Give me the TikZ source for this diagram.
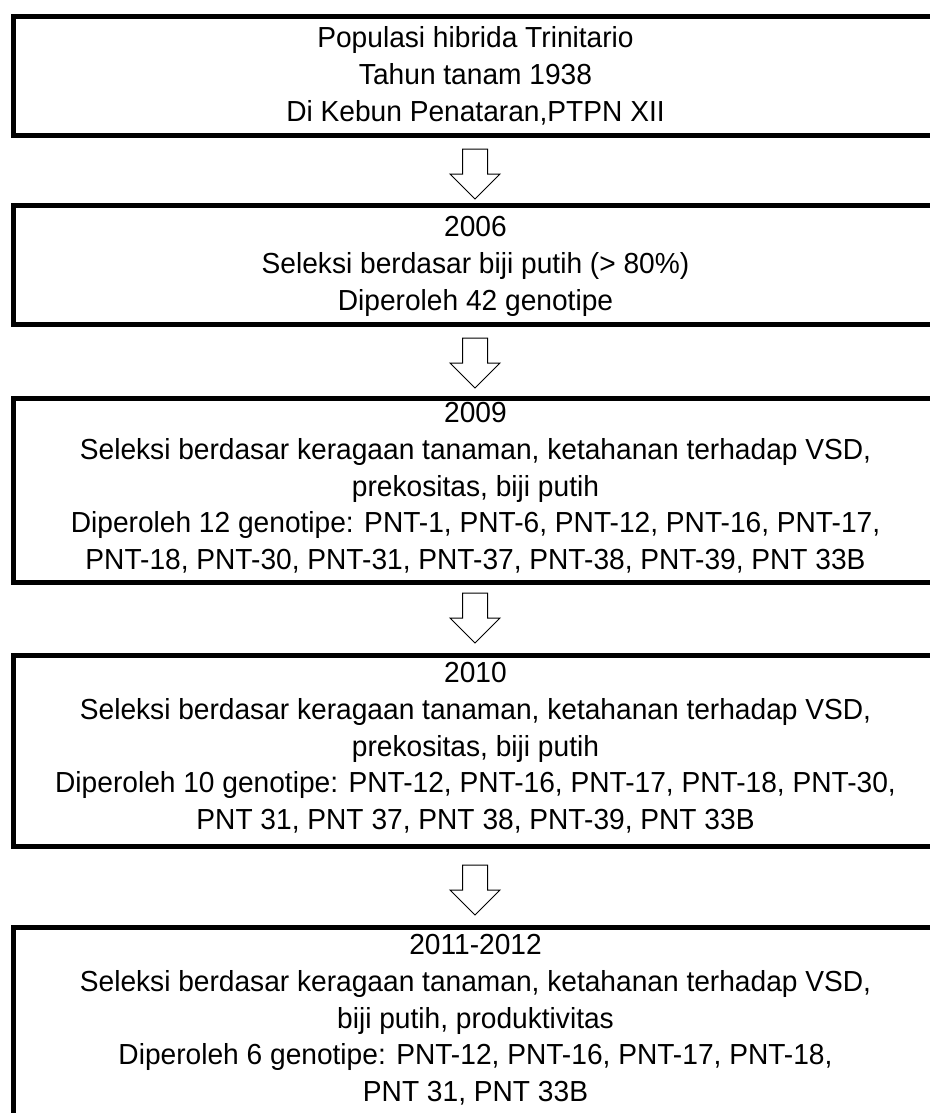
\documentclass[tikz,border=0pt]{standalone}
\usepackage{fontspec}
\setmainfont[FakeStretch=0.97]{Liberation Sans}
\begin{document}
\begin{tikzpicture}[x=1pt,y=-1pt,
  frame/.style={draw=black,line width=5pt,rectangle,inner sep=0pt,minimum width=929.5pt},
  txt/.style={align=center,inner sep=0pt,anchor=north,font=\fontsize{29}{36.8}\selectfont,
    execute at begin node=\rule{0pt}{22pt}},
  barrow/.pic={\draw[line width=1pt,fill=white] (-12.5,0) -- (12.5,0) -- (12.5,25) -- (25,25) -- (0,50) -- (-25,25) -- (-12.5,25) -- cycle;}
]
\useasboundingbox (0,0) rectangle (929,1113);
\node[frame,minimum height=119pt] (b1) at (478.25,76) {};
\node[frame,minimum height=119pt] (b2) at (478.25,265) {};
\node[frame,minimum height=184pt] (b3) at (478.25,490) {};
\node[frame,minimum height=191pt] (b4) at (478.25,750.5) {};
\node[frame,minimum height=212.5pt] (b5) at (478.25,1033.75) {};
\node[txt] (t1) at (475.5,26.5) {Populasi hibrida Trinitario\\Tahun tanam 1938\\Di Kebun Penataran,PTPN XII};
\node[txt] (t2) at (475.5,216) {2006\\Seleksi berdasar biji putih (> 80\%)\\Diperoleh 42 genotipe};
\node[txt] (t3) at (475.5,402) {2009\\Seleksi berdasar keragaan tanaman, ketahanan terhadap VSD,\\prekositas, biji putih\\Diperoleh 12 genotipe: PNT-1, PNT-6, PNT-12, PNT-16, PNT-17,\\PNT-18, PNT-30, PNT-31, PNT-37, PNT-38, PNT-39, PNT 33B};
\node[txt] (t4) at (475.5,662) {2010\\Seleksi berdasar keragaan tanaman, ketahanan terhadap VSD,\\prekositas, biji putih\\Diperoleh 10 genotipe: PNT-12, PNT-16, PNT-17, PNT-18, PNT-30,\\PNT 31, PNT 37, PNT 38, PNT-39, PNT 33B};
\node[txt] (t5) at (475.5,934) {2011-2012\\Seleksi berdasar keragaan tanaman, ketahanan terhadap VSD,\\biji putih, produktivitas\\Diperoleh 6 genotipe: PNT-12, PNT-16, PNT-17, PNT-18,\\PNT 31, PNT 33B};
\pic at ([yshift=-11pt]b1.south -| 475,0) {barrow};
\pic at ([yshift=-11pt]b2.south -| 475,0) {barrow};
\pic at ([yshift=-8.5pt]b3.south -| 475,0) {barrow};
\pic at ([yshift=-16.5pt]b4.south -| 475,0) {barrow};
\end{tikzpicture}
\end{document}
